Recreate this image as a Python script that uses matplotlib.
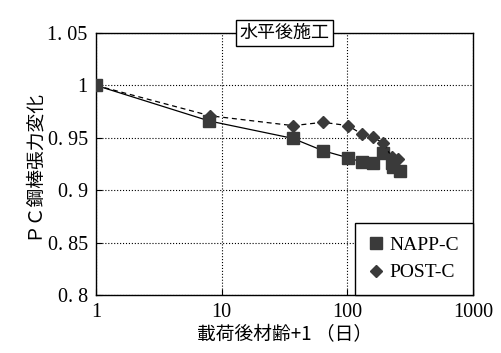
import matplotlib
matplotlib.use('Agg')
import matplotlib.pyplot as plt
from matplotlib.ticker import FixedLocator, NullLocator

plt.rcParams['font.family'] = ['Noto Sans CJK JP', 'DejaVu Sans']

# data
napp_days = [1, 8, 36.7, 64, 101, 130, 159, 193, 225, 232, 262]
napp_vals = [1.0, 0.966, 0.9495, 0.9377, 0.931, 0.927, 0.9257, 0.9352, 0.9257, 0.9224, 0.9186]
post_days = [1, 8.1, 37, 64, 101.7, 130, 159, 193, 225, 254]
post_vals = [1.0, 0.971, 0.9616, 0.9648, 0.9616, 0.9536, 0.951, 0.9448, 0.932, 0.9295]
y_ticks = [0.8, 0.85, 0.9, 0.95, 1.0, 1.05]
y_labels = ['0. 8', '0. 85', '0. 9', '0. 95', '1', '1. 05']
x_ticks = [1, 10, 100, 1000]
x_labels = ['1', '10', '100', '1000']

fig = plt.figure(figsize=(5.02, 3.53), dpi=100)
ax = fig.add_axes([96/502, 1 - 295/353, 377/502, 262/353])

ax.plot(napp_days, napp_vals, color='black', lw=0.9, marker='s', ms=8,
        mfc='#3a3a3a', mec='#3a3a3a', label='NAPP-C', zorder=3)
ax.plot(post_days, post_vals, color='black', lw=0.9, ls=(0, (4, 3)), marker='D', ms=6.5,
        mfc='#3a3a3a', mec='#3a3a3a', label='POST-C', zorder=3)

ax.set_xscale('log')
ax.set_xlim(1, 1000)
ax.set_ylim(0.8, 1.05)
ax.xaxis.set_major_locator(FixedLocator(x_ticks))
ax.xaxis.set_minor_locator(NullLocator())
ax.set_xticks(x_ticks)
ax.set_xticklabels(x_labels)
ax.set_yticks(y_ticks)
ax.set_yticklabels(y_labels)
for lab in ax.get_xticklabels() + ax.get_yticklabels():
    lab.set_family('Liberation Serif')
    lab.set_fontsize(14.5)
ax.tick_params(direction='in', length=4, width=0.8, pad=6)
ax.grid(True, color='black', ls=':', lw=0.8)
for s in ax.spines.values():
    s.set_linewidth(1.0)

ax.set_xlabel('載荷後材齢+1 （日）', fontsize=13.5, labelpad=1)
ax.set_ylabel('ＰＣ鋼棒張力変化', fontsize=13.5, labelpad=3)

ax.text(0.5, 1.0, '水平後施工', transform=ax.transAxes, ha='center', va='center',
        fontsize=13, bbox=dict(boxstyle='square,pad=0.2', fc='white', ec='black', lw=1.0))

leg = ax.legend(loc='lower right', fancybox=False, edgecolor='black', framealpha=1,
                borderaxespad=0, handlelength=0.8, handletextpad=0.3, labelspacing=0.5,
                prop={'family': 'Liberation Serif', 'size': 14}, borderpad=0.7)
leg.get_frame().set_linewidth(1.0)
for h in leg.legend_handles:
    h.set_linestyle('None')

fig.savefig('out.png', dpi=100)
